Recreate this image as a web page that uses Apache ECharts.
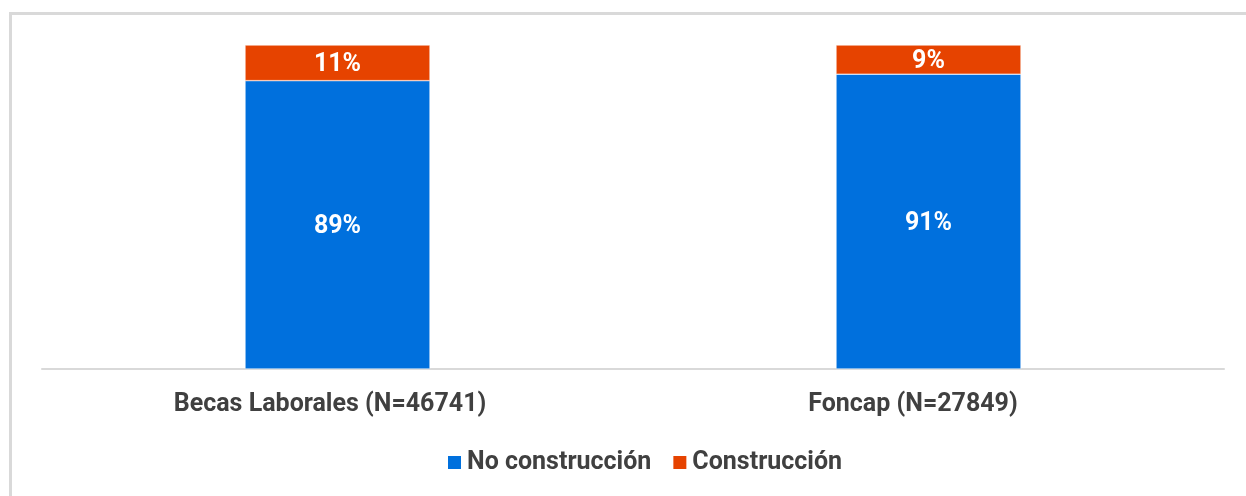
<!DOCTYPE html>
<html>
<head>
<meta charset="utf-8">
<script src="https://cdn.jsdelivr.net/npm/echarts@6/dist/echarts.min.js"></script>
<style>
  html, body { margin: 0; padding: 0; background: #fff; overflow: hidden; }
  .frame {
    position: absolute; left: 9px; top: 12px;
    width: 1400px; height: 700px;
    border: 3px solid #d9d9d9; box-sizing: border-box;
  }
  #chart { position: absolute; left: 0; top: 0; width: 1246px; height: 496px; }
</style>
</head>
<body>
<div class="frame"></div>
<div id="chart"></div>
<script>
const categories = ['Becas Laborales (N=46741)', 'Foncap (N=27849)'];
const noConstruccion = [89, 91];
const construccion = [11, 9];

const chart = echarts.init(document.getElementById('chart'));

const barLabel = {
  show: true,
  position: 'inside',
  formatter: '{c}%',
  color: '#fff',
  fontFamily: 'Roboto',
  fontWeight: 'bold',
  fontSize: 25,
  offset: [0, 2],
};

const labelStyle = {
  color: '#404040',
  fontSize: 25,
  fontWeight: 'bold',
  fontFamily: 'Roboto',
};

const option = {
  animation: false,
  textStyle: { fontFamily: 'Roboto' },
  grid: { left: 42, right: 22, top: 45, bottom: 127 },
  legend: {
    top: 450,
    left: 446,
    padding: 0,
    icon: 'rect',
    itemWidth: 15,
    itemHeight: 15,
    itemGap: 20,
    textStyle: labelStyle,
    data: ['No construcción', 'Construcción'],
  },
  xAxis: {
    type: 'category',
    data: categories,
    axisLine: { lineStyle: { color: '#d9d9d9', width: 2 } },
    axisTick: { show: false },
    axisLabel: {
      margin: 23,
      // texto ligeramente desplazado a la izquierda como en el original
      formatter: (v, i) => (i === 0 ? '{a|' + v + '}' : '{b|' + v + '}'),
      rich: {
        a: Object.assign({ padding: [0, 15, 0, 0] }, labelStyle),
        b: Object.assign({ padding: [0, 31, 0, 0] }, labelStyle),
      },
    },
  },
  yAxis: {
    type: 'value',
    min: 0,
    max: 100,
    show: false,
    splitLine: { show: false },
  },
  series: [
    {
      name: 'No construcción',
      type: 'bar',
      stack: 'total',
      barWidth: '31.3%',
      itemStyle: { color: '#0070dd', borderColor: '#ffffff', borderWidth: 0.5 },
      label: barLabel,
      data: noConstruccion,
    },
    {
      name: 'Construcción',
      type: 'bar',
      stack: 'total',
      itemStyle: { color: '#e64300', borderColor: '#ffffff', borderWidth: 0.5 },
      label: barLabel,
      data: construccion,
    },
  ],
};

chart.setOption(option);
window.addEventListener('resize', () => chart.resize());
</script>
</body>
</html>
